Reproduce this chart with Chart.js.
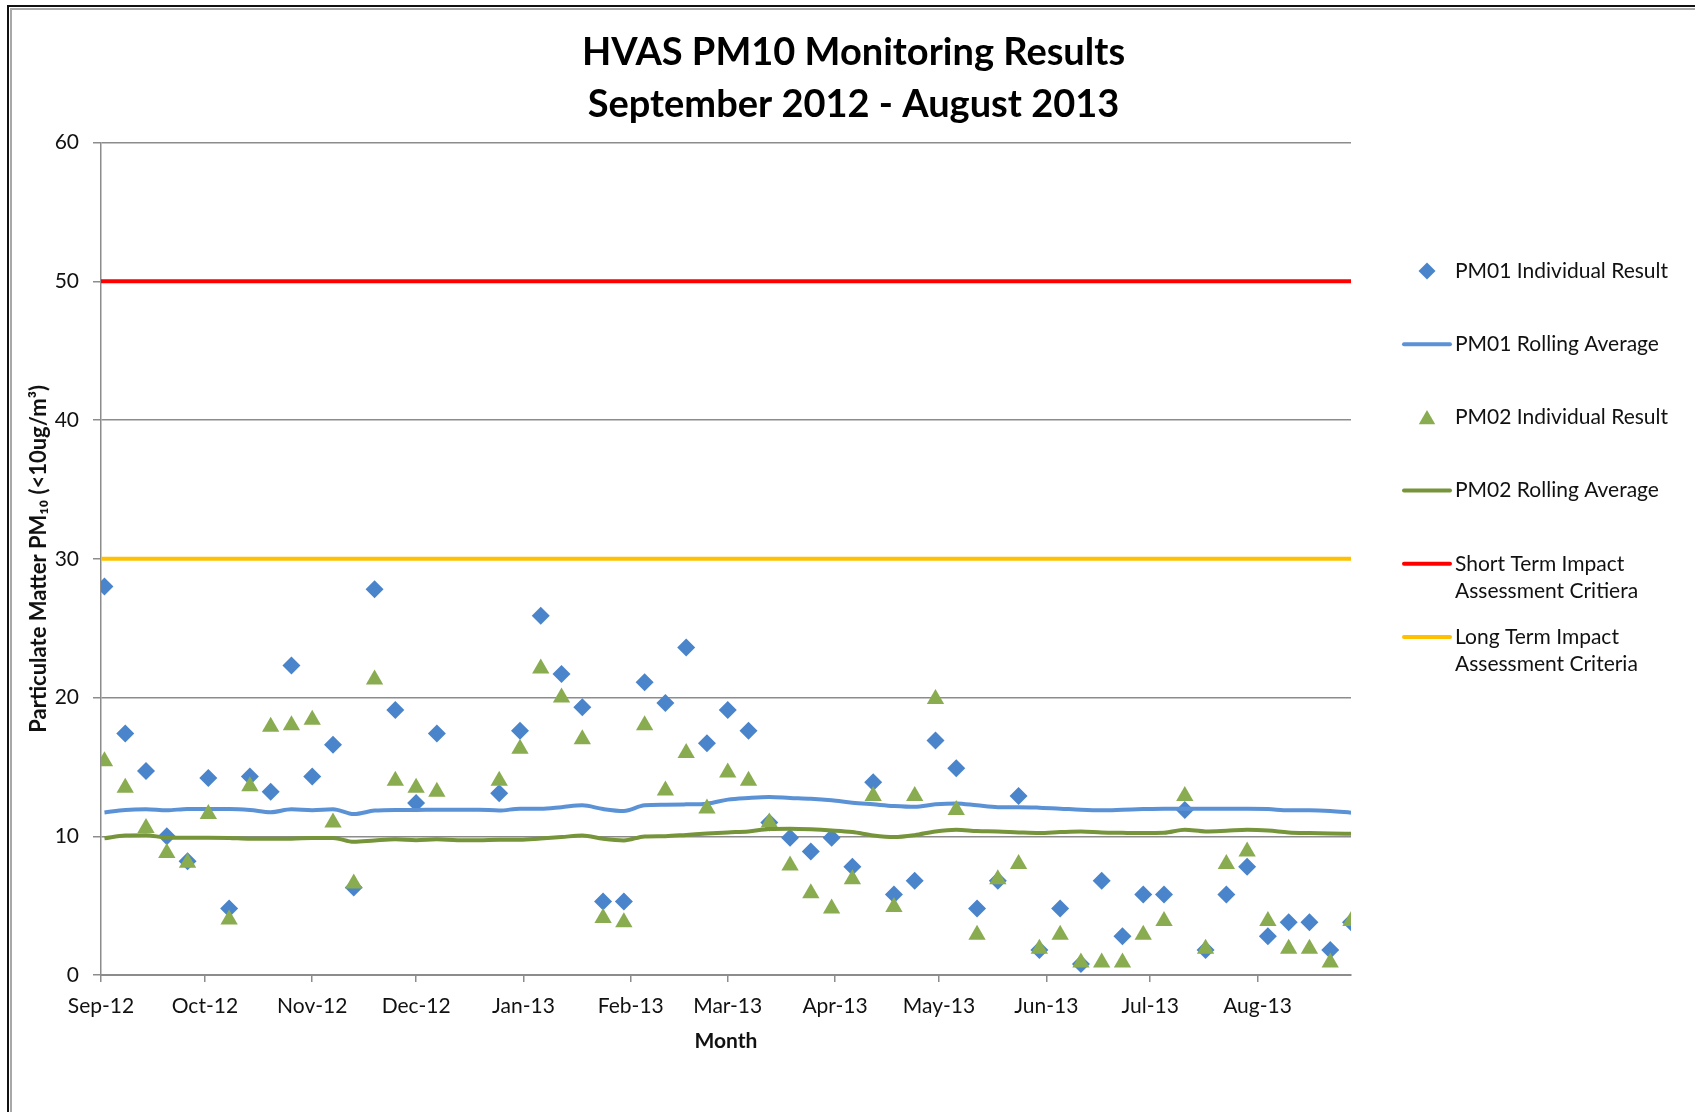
<!DOCTYPE html>
<html>
<head>
<meta charset="utf-8">
<title>HVAS PM10 Monitoring Results</title>
<script src="https://cdn.jsdelivr.net/npm/chart.js@4.4.1/dist/chart.umd.min.js"></script>
<style>
    html, body { margin: 0; padding: 0; background: #fff; }
    #wrap { position: relative; width: 1695px; height: 1112px; overflow: hidden; background: #fff; }
    #pmChart { position: absolute; left: 0; top: 0; }
    .frame { position: absolute; right: -20px; bottom: -20px; pointer-events: none; }
    #frame-dark { left: 7px; top: 5px; border-left: 2.5px solid #111; border-top: 2px solid #111; }
    #frame-light { left: 10px; top: 8px; border-left: 2px solid #a8a8a8; border-top: 2px solid #a8a8a8; }
</style>
</head>
<body>
<div id="wrap">
    <canvas id="pmChart" width="1695" height="1112"></canvas>
    <div class="frame" id="frame-dark"></div>
    <div class="frame" id="frame-light"></div>
</div>
<script>
// HVAS 1-in-6 day sampling dates
const sampleDates = [
    '2012-09-02', '2012-09-08', '2012-09-14', '2012-09-20', '2012-09-26',
    '2012-10-02', '2012-10-08', '2012-10-14', '2012-10-20', '2012-10-26',
    '2012-11-01', '2012-11-07', '2012-11-13', '2012-11-19', '2012-11-25',
    '2012-12-01', '2012-12-07', '2012-12-13', '2012-12-19', '2012-12-25', '2012-12-31',
    '2013-01-06', '2013-01-12', '2013-01-18', '2013-01-24', '2013-01-30',
    '2013-02-05', '2013-02-11', '2013-02-17', '2013-02-23',
    '2013-03-01', '2013-03-07', '2013-03-13', '2013-03-19', '2013-03-25', '2013-03-31',
    '2013-04-06', '2013-04-12', '2013-04-18', '2013-04-24', '2013-04-30',
    '2013-05-06', '2013-05-12', '2013-05-18', '2013-05-24', '2013-05-30',
    '2013-06-05', '2013-06-11', '2013-06-17', '2013-06-23', '2013-06-29',
    '2013-07-05', '2013-07-11', '2013-07-17', '2013-07-23', '2013-07-29',
    '2013-08-04', '2013-08-10', '2013-08-16', '2013-08-22', '2013-08-28'
];

const monthStarts = [
    '2012-09-01', '2012-10-01', '2012-11-01', '2012-12-01', '2013-01-01', '2013-02-01',
    '2013-03-01', '2013-04-01', '2013-05-01', '2013-06-01', '2013-07-01', '2013-08-01'
];
const monthLabels = ['Sep-12', 'Oct-12', 'Nov-12', 'Dec-12', 'Jan-13', 'Feb-13',
    'Mar-13', 'Apr-13', 'May-13', 'Jun-13', 'Jul-13', 'Aug-13'];

const pm01Results = [
    28.0, 17.4, 14.7, 10.0, 8.2, 14.2, 4.8, 14.3, 13.2, 22.3,
    14.3, 16.6, 6.3, 27.8, 19.1, 12.4, 17.4, null, null, 13.1,
    17.6, 25.9, 21.7, 19.3, 5.3, 5.3, 21.1, 19.6, 23.6, 16.7,
    19.1, 17.6, 11.0, 9.9, 8.9, 9.9, 7.8, 13.9, 5.8, 6.8,
    16.9, 14.9, 4.8, 6.8, 12.9, 1.8, 4.8, 0.8, 6.8, 2.8,
    5.8, 5.8, 11.9, 1.8, 5.8, 7.8, 2.8, 3.8, 3.8, 1.8, 3.8
];
const pm01Rolling = [
    11.72, 11.9, 11.95, 11.87, 11.97, 11.97, 11.97, 11.9, 11.74, 11.95,
    11.88, 11.95, 11.6, 11.85, 11.9, 11.9, 11.92, 11.92, 11.92, 11.85,
    11.99, 11.99, 12.1, 12.23, 11.96, 11.82, 12.23, 12.27, 12.3, 12.35,
    12.64, 12.76, 12.83, 12.76, 12.7, 12.59, 12.42, 12.3, 12.18, 12.12,
    12.3, 12.37, 12.23, 12.1, 12.1, 12.06, 11.99, 11.91, 11.87, 11.91,
    11.96, 11.99, 11.99, 11.99, 11.99, 11.99, 11.96, 11.87, 11.87, 11.82, 11.7
];
const pm02Results = [
    15.4, 13.5, 10.6, 8.8, 8.1, 11.6, 4.0, 13.6, 17.9, 18.0,
    18.4, 11.0, 6.6, 21.3, 14.0, 13.5, 13.2, null, null, 14.0,
    16.3, 22.1, 20.0, 17.0, 4.1, 3.8, 18.0, 13.3, 16.0, 12.0,
    14.6, 14.0, 11.0, 7.9, 5.9, 4.8, 6.9, 12.9, 4.9, 12.9,
    19.9, 11.9, 2.9, 6.9, 8.0, 1.9, 2.9, 0.9, 0.9, 0.9,
    2.9, 3.9, 12.9, 1.9, 8.0, 8.9, 3.9, 1.9, 1.9, 0.9, 3.9
];
const pm02Rolling = [
    9.85, 10.05, 10.08, 9.9, 9.9, 9.9, 9.88, 9.82, 9.82, 9.82,
    9.88, 9.88, 9.6, 9.7, 9.78, 9.72, 9.78, 9.72, 9.72, 9.75,
    9.75, 9.84, 9.94, 10.06, 9.82, 9.7, 9.99, 10.01, 10.1, 10.2,
    10.28, 10.35, 10.52, 10.54, 10.5, 10.42, 10.3, 10.06, 9.94, 10.08,
    10.35, 10.47, 10.38, 10.35, 10.28, 10.23, 10.3, 10.35, 10.28, 10.25,
    10.23, 10.25, 10.47, 10.35, 10.4, 10.47, 10.42, 10.28, 10.23, 10.2, 10.18
];

const shortTermCriteria = 50;
const longTermCriteria = 30;

const FONT = 'Lato, "Open Sans", "Liberation Sans", sans-serif';
const gridColor = '#8c8c8c';
const textColor = '#111';

// days counted from 1 Sep 2012, so the x axis can be a plain linear scale
const origin = Date.UTC(2012, 8, 1);
function dayNumber(iso) {
    const [y, m, d] = iso.split('-').map(Number);
    return (Date.UTC(y, m - 1, d) - origin) / 86400000;
}
const sampleDays = sampleDates.map(dayNumber);
const monthDays = monthStarts.map(dayNumber);
const xMin = monthDays[0];
const xMax = sampleDays[sampleDays.length - 1];

function toPoints(values) {
    return values.map((v, i) => ({ x: sampleDays[i], y: v }));
}
function flatLine(value) {
    return [{ x: xMin, y: value }, { x: xMax, y: value }];
}

// legend drawn at the right, Excel style (line sample + wrapped text)
const sideLegend = {
    id: 'sideLegend',
    afterDraw(chart, args, opts) {
        const ctx = chart.ctx;
        ctx.save();
        ctx.font = opts.font;
        ctx.textBaseline = 'middle';
        chart.data.datasets.forEach((ds, i) => {
            const y = opts.top + i * opts.rowHeight;
            if (ds.showLine === false) {
                ctx.fillStyle = ds.pointBackgroundColor;
                ctx.strokeStyle = ds.pointBackgroundColor;
                const isTriangle = ds.pointStyle === 'triangle';
                Chart.helpers.drawPoint(ctx, {
                    pointStyle: ds.pointStyle,
                    radius: isTriangle ? opts.markerRadius + 1 : opts.markerRadius,
                    rotation: 0,
                    borderWidth: 0
                }, opts.left + opts.sampleWidth / 2, y + (isTriangle ? 2 : 0));
            } else {
                ctx.strokeStyle = ds.borderColor;
                ctx.lineWidth = ds.borderWidth;
                ctx.lineCap = 'round';
                ctx.beginPath();
                ctx.moveTo(opts.left, y);
                ctx.lineTo(opts.left + opts.sampleWidth, y);
                ctx.stroke();
            }
            ctx.fillStyle = opts.color;
            ds.label.split('\n').forEach((line, k) => {
                ctx.fillText(line, opts.textLeft, y + k * opts.lineGap);
            });
        });
        ctx.restore();
    }
};

const ctx = document.getElementById('pmChart').getContext('2d');
new Chart(ctx, {
    type: 'line',
    data: {
        datasets: [
            {
                label: 'PM01 Individual Result',
                data: toPoints(pm01Results),
                showLine: false,
                pointStyle: 'rectRot',
                pointRadius: 9,
                pointBorderWidth: 0,
                pointBackgroundColor: '#4a84cb',
                borderColor: '#4a84cb',
                order: 6
            },
            {
                label: 'PM01 Rolling Average',
                data: toPoints(pm01Rolling),
                borderColor: '#5b92d6',
                borderWidth: 4,
                pointRadius: 0,
                cubicInterpolationMode: 'monotone',
                order: 5
            },
            {
                label: 'PM02 Individual Result',
                data: toPoints(pm02Results),
                showLine: false,
                pointStyle: 'triangle',
                pointRadius: 10,
                pointBorderWidth: 0,
                pointBackgroundColor: '#8aac50',
                borderColor: '#8aac50',
                order: 4
            },
            {
                label: 'PM02 Rolling Average',
                data: toPoints(pm02Rolling),
                borderColor: '#76953a',
                borderWidth: 4,
                pointRadius: 0,
                cubicInterpolationMode: 'monotone',
                order: 3
            },
            {
                label: 'Short Term Impact\nAssessment Critiera',
                data: flatLine(shortTermCriteria),
                borderColor: '#ff0000',
                borderWidth: 4,
                pointRadius: 0,
                order: 2
            },
            {
                label: 'Long Term Impact\nAssessment Criteria',
                data: flatLine(longTermCriteria),
                borderColor: '#ffc000',
                borderWidth: 4,
                pointRadius: 0,
                order: 1
            }
        ]
    },
    options: {
        responsive: false,
        animation: false,
        events: [],
        layout: { padding: { left: 12, right: 0, top: 0, bottom: 0 } },
        scales: {
            x: {
                type: 'linear',
                min: xMin,
                max: xMax,
                afterBuildTicks: scale => {
                    scale.ticks = monthDays.map(v => ({ value: v }));
                },
                afterFit: scale => { scale.height = 137; },
                ticks: {
                    autoSkip: false,
                    maxRotation: 0,
                    padding: 12,
                    color: textColor,
                    font: { family: FONT, size: 21 },
                    callback: (value, index) => monthLabels[index]
                },
                grid: {
                    drawOnChartArea: false,
                    drawTicks: true,
                    tickLength: 7,
                    color: gridColor,
                    lineWidth: 1.5
                },
                border: { display: true, color: gridColor, width: 2 },
                title: {
                    display: true,
                    text: 'Month',
                    color: textColor,
                    font: { family: FONT, size: 21, weight: 'bold', lineHeight: 1.2 },
                    padding: { top: 0, bottom: 58 }
                }
            },
            y: {
                min: 0,
                max: 60,
                afterFit: scale => { scale.width = 89; },
                ticks: {
                    stepSize: 10,
                    padding: 14,
                    color: textColor,
                    font: { family: FONT, size: 21 }
                },
                grid: { color: gridColor, lineWidth: 1.5, tickLength: 8 },
                border: { display: true, color: gridColor, width: 1.5 },
                title: {
                    display: true,
                    text: 'Particulate Matter PM\u2081\u2080 (<10ug/m\u00b3)',
                    color: textColor,
                    font: { family: FONT, size: 22, weight: 'bold', lineHeight: 1.2 },
                    padding: { top: 14, bottom: 0 }
                }
            },
            // empty right-hand axis, keeps room for the legend
            yRight: {
                position: 'right',
                min: 0,
                max: 60,
                afterFit: scale => { scale.width = 344; },
                ticks: { display: false },
                grid: { drawOnChartArea: false, drawTicks: false },
                border: { display: false }
            }
        },
        plugins: {
            legend: { display: false },
            tooltip: { enabled: false },
            title: {
                display: true,
                text: ['HVAS PM10 Monitoring Results', 'September 2012 - August 2013'],
                color: '#000',
                font: { family: FONT, size: 38, weight: 'bold', lineHeight: 1.35 },
                padding: { top: 27.5, bottom: 12.5 }
            },
            sideLegend: {
                left: 1404,
                sampleWidth: 46,
                textLeft: 1455,
                top: 271,
                rowHeight: 73.2,
                lineGap: 27.5,
                markerRadius: 8.5,
                color: textColor,
                font: '21px ' + FONT
            }
        }
    },
    plugins: [sideLegend]
});
</script>
</body>
</html>
